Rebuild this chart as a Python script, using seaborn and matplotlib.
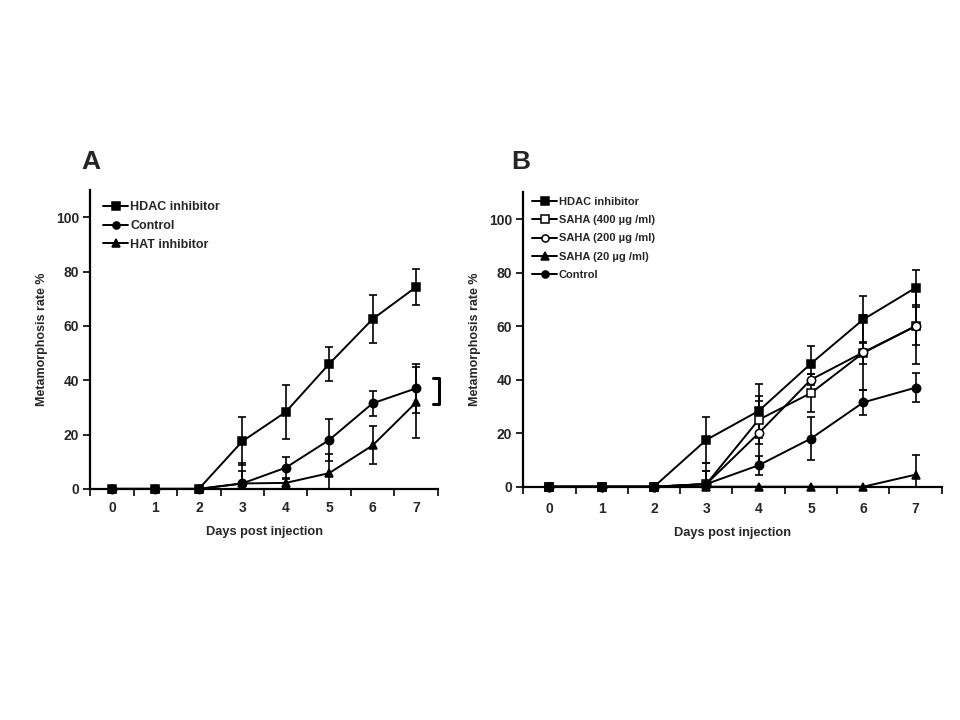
import numpy as np
import pandas as pd
import matplotlib
matplotlib.use("Agg")
import matplotlib.pyplot as plt
import seaborn as sns

# ── data ─────────────────────────────────────────────────────────────────────
days = [0, 1, 2, 3, 4, 5, 6, 7]

# panel A
a_hdac = [0, 0, 0, 17.5, 28.3, 46.0, 62.5, 74.3]
a_hdac_err = [0, 0, 0, 8.8, 10.0, 6.4, 8.8, 6.5]
a_control = [0, 0, 0, 2.0, 7.8, 18.0, 31.5, 37.0]
a_control_err = [0, 0, 0, 7.5, 3.8, 7.7, 4.7, 9.0]
a_hat = [0, 0, 0, 2.0, 2.2, 5.8, 16.0, 31.8]
a_hat_err = [0, 0, 0, 4.5, 1.5, 7.2, 7.0, 13.0]

# panel B
b_hdac = [0, 0, 0, 17.5, 28.3, 46.0, 62.5, 74.3]
b_hdac_err = [0, 0, 0, 8.5, 10.0, 6.5, 8.8, 6.5]
b_saha400 = [0, 0, 0, 1.0, 25.0, 35.0, 50.0, 60.0]
b_saha400_err = [0, 0, 0, 5.0, 9.0, 7.0, 4.0, 7.0]
b_saha200 = [0, 0, 0, 1.0, 20.0, 40.0, 50.2, 60.0]
b_saha200_err = [0, 0, 0, 8.0, 12.0, 2.0, 14.0, 14.0]
b_saha20 = [0, 0, 0, 0, 0, 0, 0, 4.5]
b_saha20_err = [0, 0, 0, 0, 0, 0, 0, 7.5]
b_control = [0, 0, 0, 1.0, 8.0, 18.0, 31.5, 37.0]
b_control_err = [0, 0, 0, 5.0, 3.6, 7.9, 4.7, 5.4]

# label, values, errors, marker, filled
series_a = [
    ("HDAC inhibitor", a_hdac, a_hdac_err, "s", True),
    ("Control", a_control, a_control_err, "o", True),
    ("HAT inhibitor", a_hat, a_hat_err, "^", True),
]
series_b = [
    ("HDAC inhibitor", b_hdac, b_hdac_err, "s", True),
    ("SAHA (400 µg /ml)", b_saha400, b_saha400_err, "s", False),
    ("SAHA (200 µg /ml)", b_saha200, b_saha200_err, "o", False),
    ("SAHA (20 µg /ml)", b_saha20, b_saha20_err, "^", True),
    ("Control", b_control, b_control_err, "o", True),
]

sns.set_theme(style="ticks")
plt.rcParams["font.family"] = ["Liberation Sans", "DejaVu Sans"]
plt.rcParams["font.weight"] = "bold"

fig = plt.figure(figsize=(9.6, 7.2), dpi=100)
ax_a = fig.add_axes([0.094, 0.321, 0.362, 0.415])
ax_b = fig.add_axes([0.545, 0.324, 0.436, 0.409])


def draw_panel(ax, series, xpad, leg_fs, leg_space, leg_hl, leg_anchor):
    for label, vals, errs, marker, filled in series:
        df = pd.DataFrame({"day": days, "rate": vals})
        ax.errorbar(days, vals, yerr=errs, fmt="none", ecolor="black",
                    elinewidth=1.2, capsize=3, capthick=1.2, zorder=2)
        sns.lineplot(data=df, x="day", y="rate", ax=ax, color="black",
                     linewidth=1.4, marker=marker, markersize=6,
                     markerfacecolor="black" if filled else "white",
                     markeredgecolor="black", markeredgewidth=1.1,
                     label=label, zorder=3, clip_on=False)
    ax.set_xlim(-0.5, 7.5)
    ax.set_ylim(0, 110)
    ax.set_yticks([0, 20, 40, 60, 80, 100])
    ax.set_xticks(np.arange(-0.5, 8, 1))
    ax.set_xticklabels([])
    ax.set_xticks(days, minor=True)
    ax.set_xticklabels([str(d) for d in days], minor=True, fontsize=10,
                       fontweight="bold")
    ax.tick_params(axis="x", which="minor", length=0, pad=xpad)
    ax.tick_params(axis="x", which="major", length=5, width=1.4,
                   direction="out")
    ax.tick_params(axis="y", length=5, width=1.4, labelsize=10, pad=3)
    for t in ax.get_yticklabels():
        t.set_fontweight("bold")
    for s in ["top", "right"]:
        ax.spines[s].set_visible(False)
    for s in ["left", "bottom"]:
        ax.spines[s].set_linewidth(1.6)
        ax.spines[s].set_color("black")
    ax.set_xlabel("Days post injection", fontsize=9.2, fontweight="bold",
                  labelpad=8)
    ax.set_ylabel("Metamorphosis rate %", fontsize=9, fontweight="bold",
                  labelpad=6)
    ax.legend(loc="upper left", bbox_to_anchor=leg_anchor, frameon=False,
              handlelength=leg_hl, handletextpad=0.15, borderaxespad=0,
              markerscale=0.85, labelspacing=leg_space,
              prop={"weight": "bold", "size": leg_fs})


draw_panel(ax_a, series_a, 9, 9, 0.55, 2.0, (0.023, 0.98))
draw_panel(ax_b, series_b, 11, 8, 0.73, 2.25, (0.011, 0.998))

# bracket next to panel A
ax_a.plot([7.38, 7.54, 7.54, 7.38], [40.8, 40.8, 31.3, 31.3], color="black",
          linewidth=2.2, clip_on=False)

fig.text(0.085, 0.765, "A", fontsize=19, fontweight="bold")
fig.text(0.533, 0.765, "B", fontsize=19, fontweight="bold")

fig.savefig("out.png", dpi=100, facecolor="white")
